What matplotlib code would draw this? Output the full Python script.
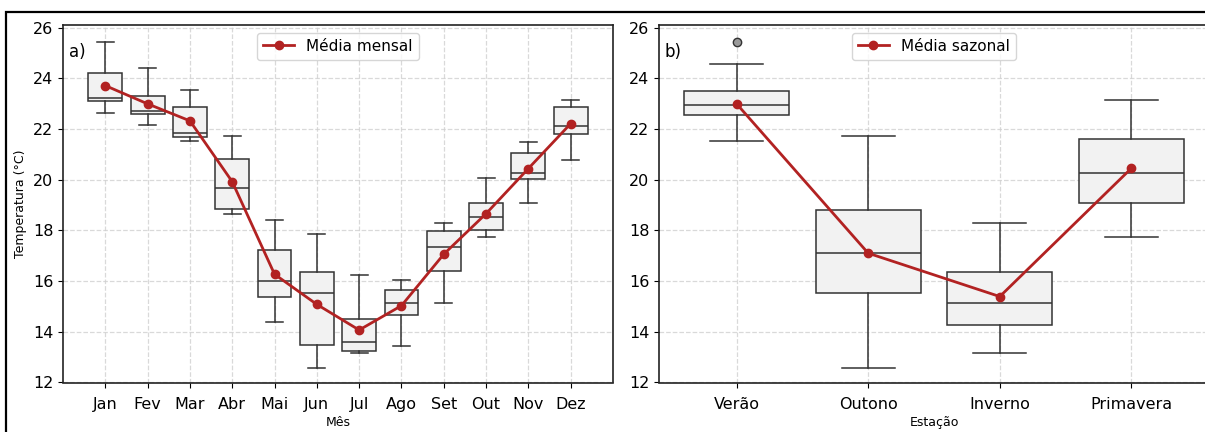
import matplotlib.pyplot as plt
from matplotlib.patches import Rectangle

# monthly box statistics (°C)
meses = ['Jan', 'Fev', 'Mar', 'Abr', 'Mai', 'Jun', 'Jul', 'Ago', 'Set', 'Out', 'Nov', 'Dez']
m_whislo = [22.62, 22.15, 21.53, 18.65, 14.39, 12.56, 13.15, 13.45, 15.14, 17.75, 19.07, 20.79]
m_q1 = [23.10, 22.58, 21.68, 18.86, 15.36, 13.47, 13.24, 14.66, 16.39, 18.03, 20.02, 21.79]
m_med = [23.23, 22.72, 21.85, 19.68, 16.00, 15.52, 13.59, 15.15, 17.35, 18.54, 20.26, 22.13]
m_q3 = [24.22, 23.29, 22.87, 20.82, 17.23, 16.35, 14.49, 15.65, 17.99, 19.09, 21.05, 22.86]
m_whishi = [25.43, 24.39, 23.53, 21.71, 18.41, 17.87, 16.24, 16.03, 18.28, 20.05, 21.48, 23.13]
m_mean = [23.71, 22.99, 22.32, 19.92, 16.27, 15.08, 14.07, 15.03, 17.06, 18.66, 20.44, 22.21]

# seasonal box statistics (°C)
estacoes = ['Verão', 'Outono', 'Inverno', 'Primavera']
s_whislo = [21.51, 12.56, 13.15, 17.75]
s_q1 = [22.54, 15.52, 14.26, 19.07]
s_med = [22.96, 17.10, 15.14, 20.26]
s_q3 = [23.50, 18.82, 16.37, 21.61]
s_whishi = [24.55, 21.71, 18.28, 23.13]
s_fliers = [[25.42], [], [], []]
s_mean = [22.99, 17.10, 15.39, 20.45]


def make_stats(whislo, q1, med, q3, whishi, fliers=None):
    stats = []
    for i in range(len(med)):
        stats.append({'whislo': whislo[i], 'q1': q1[i], 'med': med[i],
                      'q3': q3[i], 'whishi': whishi[i],
                      'fliers': fliers[i] if fliers else []})
    return stats


fig = plt.figure(figsize=(12.05, 4.32), dpi=100)
W, H = 1205, 432
ax1 = fig.add_axes([63 / W, 1 - 382.5 / H, 550 / W, 357.5 / H])
ax2 = fig.add_axes([659 / W, 1 - 382.5 / H, 550 / W, 357.5 / H])

# frame around the figure (cropped on the right/bottom)
fig.patches.append(Rectangle((5.5 / W, -0.1), 1.2, 1.1 - 12.5 / H,
                             transform=fig.transFigure, fill=False,
                             edgecolor='black', linewidth=1.6, zorder=10))

box_kw = dict(widths=0.8, patch_artist=True, showfliers=True,
              boxprops=dict(facecolor='#f2f2f2', edgecolor='#333333', linewidth=1.1),
              medianprops=dict(color='#333333', linewidth=1.1),
              whiskerprops=dict(color='#333333', linewidth=1.1),
              capprops=dict(color='#333333', linewidth=1.1),
              flierprops=dict(marker='o', markerfacecolor='#9a9a9a',
                              markeredgecolor='#333333', markersize=6))

pos1 = list(range(1, len(meses) + 1))
ax1.bxp(make_stats(m_whislo, m_q1, m_med, m_q3, m_whishi), positions=pos1, **box_kw)
ax1.plot(pos1, m_mean, color='#b22222', marker='o', lw=2, ms=6, label='Média mensal', zorder=5)
ax1.set_xticks(pos1)
ax1.set_xticklabels(meses)
ax1.set_xlim(0, 13)
ax1.set_xlabel('Mês', fontsize=9, labelpad=3)
ax1.set_ylabel('Temperatura (°C)', fontsize=9)
ax1.text(0.01, 0.925, 'a)', transform=ax1.transAxes, fontsize=12, va='center')
ax1.legend(loc='upper center', fontsize=11)

pos2 = list(range(1, len(estacoes) + 1))
ax2.bxp(make_stats(s_whislo, s_q1, s_med, s_q3, s_whishi, s_fliers), positions=pos2, **box_kw)
ax2.plot(pos2, s_mean, color='#b22222', marker='o', lw=2, ms=6, label='Média sazonal', zorder=5)
ax2.set_xticks(pos2)
ax2.set_xticklabels(estacoes)
ax2.set_xlim(0.41, 4.59)
ax2.set_xlabel('Estação', fontsize=9, labelpad=3)
ax2.text(0.01, 0.925, 'b)', transform=ax2.transAxes, fontsize=12, va='center')
ax2.legend(loc='upper center', fontsize=11)

for ax in (ax1, ax2):
    ax.set_ylim(12, 26.1)
    ax.set_yticks(range(12, 27, 2))
    ax.grid(True, linestyle='--', color='#d0d0d0', alpha=0.8, linewidth=0.9)
    ax.set_axisbelow(True)
    ax.tick_params(labelsize=11.5)
    ax.tick_params(axis='x', pad=7)
    for s in ax.spines.values():
        s.set_linewidth(1.2)
        s.set_color('#222222')

fig.savefig('out.png', dpi=100)
